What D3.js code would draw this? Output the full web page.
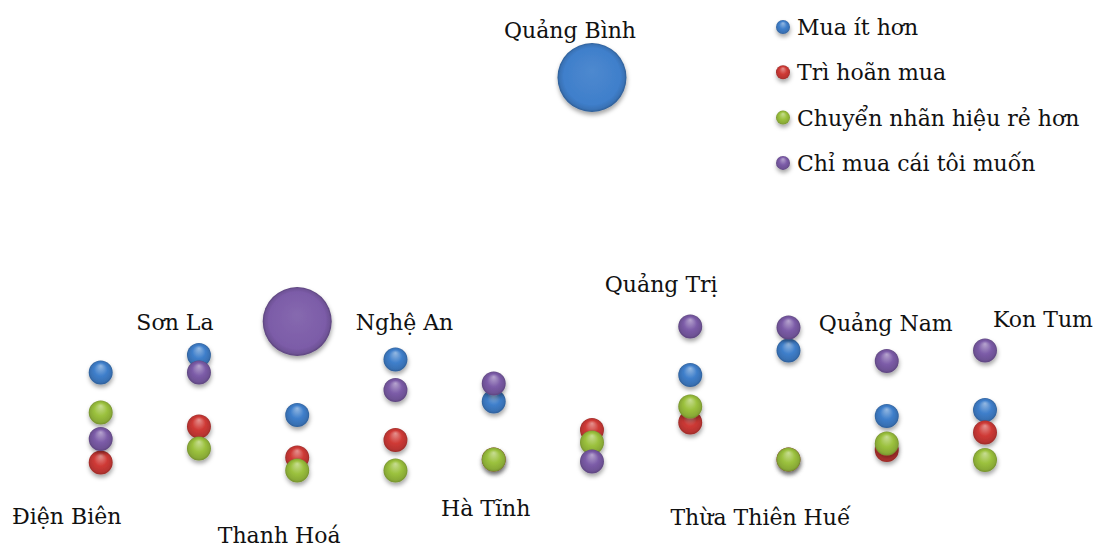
<!DOCTYPE html>
<html>
<head>
<meta charset="utf-8">
<script src="https://cdn.jsdelivr.net/npm/d3@7"></script>
<style>
  html, body { margin: 0; padding: 0; background: #ffffff; }
  svg { display: block; }
  text { font-family: "DejaVu Serif", "Liberation Serif", serif; fill: #111; }
</style>
</head>
<body>
<svg id="chart" width="1097" height="548"></svg>
<script>
// Provinces along the x axis (1..10)
const provinces = ["Điện Biên", "Sơn La", "Thanh Hoá", "Nghệ An", "Hà Tĩnh",
                   "Quảng Bình", "Quảng Trị", "Thừa Thiên Huế", "Quảng Nam", "Kon Tum"];

// Series names (legend order)
const seriesNames = ["Mua ít hơn", "Trì hoãn mua", "Chuyển nhãn hiệu rẻ hơn", "Chỉ mua cái tôi muốn"];

// Y values (%) per series, one per province
const muaItHon      = [29.5, 33.0, 21.0, 32.1, 23.7, 88.5, 29.0, 33.9, 20.8, 22.0];
const triHoanMua    = [11.5, 18.7, 12.5, 16.0, 12.1, 18.0, 19.5, 12.1, 14.0, 17.5];
const chuyenNhanHieu= [21.5, 14.3,  9.9,  9.9, 12.1, 15.5, 22.7, 12.1, 15.3, 12.0];
const chiMuaCaiMuon = [16.2, 29.5, 39.7, 26.0, 27.3, 11.7, 38.7, 38.5, 31.8, 33.9];

// Bubble sizes per series
const sizeMuaItHon       = [1, 1, 1, 1, 1, 8.3, 1, 1, 1, 1];
const sizeTriHoanMua     = [1, 1, 1, 1, 1, 1, 1, 1, 1, 1];
const sizeChuyenNhanHieu = [1, 1, 1, 1, 1, 1, 1, 1, 1, 1];
const sizeChiMuaCaiMuon  = [1, 1, 8.3, 1, 1, 1, 1, 1, 1, 1];

const seriesValues = [muaItHon, triHoanMua, chuyenNhanHieu, chiMuaCaiMuon];
const seriesSizes  = [sizeMuaItHon, sizeTriHoanMua, sizeChuyenNhanHieu, sizeChiMuaCaiMuon];
const seriesColors = ["#3f7fcb", "#cf3a36", "#9bc13d", "#7c5ca8"];

// Province label placement: horizontal offset from the bubble column, baseline y
const labelPlacement = [
  { dx: -34, y: 524 }, { dx: -24, y: 330 }, { dx: -18, y: 543 }, { dx: 9, y: 330 },
  { dx: -8, y: 516 },  { dx: -22, y: 38 },  { dx: -29, y: 292 }, { dx: -28, y: 525 },
  { dx: -1, y: 331 },  { dx: 58, y: 327 }
];

const svg = d3.select("#chart");
const defs = svg.append("defs");

const x = d3.scaleLinear().domain([1, 10]).range([100.7, 985]);
const y = d3.scaleLinear().domain([0, 100]).range([520, 20]);
const r = d3.scaleSqrt().domain([0, 8.3]).range([0, 34.5]);

// Drop shadow beneath each bubble
const shadow = defs.append("filter").attr("id", "shadow")
  .attr("x", "-40%").attr("y", "-40%").attr("width", "180%").attr("height", "190%");
shadow.append("feDropShadow").attr("dx", 0.5).attr("dy", 3).attr("stdDeviation", 2)
  .attr("flood-color", "#000").attr("flood-opacity", 0.35);

// Glossy sphere gradient (small bubbles) and bevelled flat gradient (large bubbles)
seriesColors.forEach((c, i) => {
  const base = d3.color(c);
  const light = d3.interpolateRgb(c, "#ffffff")(0.45);
  const dark = base.darker(0.8);

  const g = defs.append("radialGradient").attr("id", "sphere" + i)
    .attr("cx", "50%").attr("cy", "50%").attr("r", "50%")
    .attr("fx", "50%").attr("fy", "22%");
  g.append("stop").attr("offset", "0%").attr("stop-color", light);
  g.append("stop").attr("offset", "55%").attr("stop-color", c);
  g.append("stop").attr("offset", "88%").attr("stop-color", base.darker(0.35));
  g.append("stop").attr("offset", "100%").attr("stop-color", dark);

  const f = defs.append("radialGradient").attr("id", "flat" + i)
    .attr("cx", "50%").attr("cy", "50%").attr("r", "50%")
    .attr("fx", "50%").attr("fy", "40%");
  f.append("stop").attr("offset", "0%").attr("stop-color", d3.interpolateRgb(c, "#ffffff")(0.08));
  f.append("stop").attr("offset", "82%").attr("stop-color", c);
  f.append("stop").attr("offset", "94%").attr("stop-color", base.darker(0.3));
  f.append("stop").attr("offset", "100%").attr("stop-color", base.darker(0.9));
});

// Bubbles, one group per series (later series drawn on top)
seriesValues.forEach((vals, si) => {
  const pts = vals.map((v, i) => ({ i, v, s: seriesSizes[si][i] }))
    .sort((a, b) => b.s - a.s);
  svg.append("g").attr("class", "series")
    .selectAll("circle").data(pts).join("circle")
    .attr("cx", d => x(d.i + 1))
    .attr("cy", d => y(d.v))
    .attr("r", d => r(d.s))
    .attr("fill", d => r(d.s) > 20 ? `url(#flat${si})` : `url(#sphere${si})`)
    .attr("filter", "url(#shadow)");
});

// Province labels
svg.append("g").selectAll("text").data(provinces).join("text")
  .attr("x", (d, i) => x(i + 1) + labelPlacement[i].dx)
  .attr("y", (d, i) => labelPlacement[i].y)
  .attr("text-anchor", "middle")
  .style("font-size", "22px")
  .text(d => d);

// Legend
const legend = svg.append("g").attr("transform", "translate(783,27)");
const items = legend.selectAll("g").data(seriesNames).join("g")
  .attr("transform", (d, i) => `translate(0,${i * 45.3})`);
items.append("circle").attr("r", 7)
  .attr("fill", (d, i) => `url(#sphere${i})`)
  .attr("filter", "url(#shadow)");
items.append("text").attr("x", 14).attr("y", 8)
  .style("font-size", "22px")
  .text(d => d);
</script>
</body>
</html>
